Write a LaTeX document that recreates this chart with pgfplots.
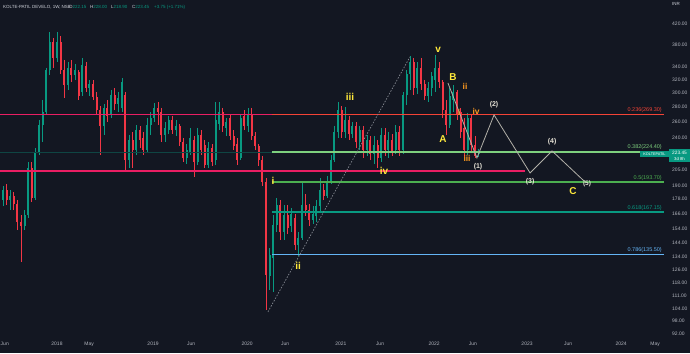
\documentclass[border=0pt]{standalone}
\usepackage{pgfplots}
\pgfplotsset{compat=1.18}
\usepackage{pgfplotstable}
\usepackage{fontspec}
\setmainfont{Liberation Sans}
\definecolor{bg}{HTML}{131722}
\definecolor{up}{HTML}{089981}
\definecolor{dn}{HTML}{F23645}
\definecolor{lbl}{HTML}{B2B5BE}
\definecolor{hd}{HTML}{D1D4DC}
\definecolor{pinkl}{HTML}{E91E63}
\definecolor{fibr}{HTML}{F44336}
\definecolor{fibg1}{HTML}{7ED07E}
\definecolor{fibg2}{HTML}{4CAF50}
\definecolor{fibt}{HTML}{089981}
\definecolor{fibb}{HTML}{64B5F6}
\definecolor{wy}{HTML}{FFE93B}
\definecolor{wo}{HTML}{FF9A1F}
\definecolor{zz}{HTML}{B2B0A8}
\definecolor{wl}{HTML}{E6E2D6}

\pgfplotstableread{
w o h l c
-30 177.1 189.7 172.0 186.0
-28 186.0 191.6 172.8 177.1
-26 177.1 186.0 168.6 180.6
-24 180.6 184.2 168.6 173.7
-22 173.7 177.1 152.9 159.0
-20 159.0 164.6 130.7 156.0
-18 156.0 168.6 152.9 164.6
-16 164.6 213.4 162.2 207.2
-14 207.2 213.4 175.4 178.9
-12 178.9 228.6 177.1 224.1
-10 224.1 262.3 220.9 255.9
-8 255.9 289.3 235.4 272.8
-6 272.8 338.5 268.8 335.1
-4 335.1 403.8 327.0 384.5
-2 384.5 392.2 338.5 355.5
0 355.5 403.8 348.6 384.5
2 384.5 396.0 328.6 335.1
4 335.1 352.0 292.2 311.4
6 311.4 348.6 303.8 338.5
8 338.5 352.0 316.0 327.0
10 327.0 345.2 319.1 335.1
12 331.9 335.1 289.3 295.0
14 300.9 355.5 295.0 343.5
16 341.8 348.6 300.9 306.8
18 306.8 319.1 295.0 312.9
20 312.9 319.1 289.3 293.6
22 293.6 300.9 270.1 275.4
24 275.4 280.9 220.9 254.7
26 254.7 283.7 243.6 278.2
28 278.2 289.3 259.7 267.5
30 270.1 303.8 264.9 296.5
32 296.5 306.8 275.4 283.7
34 283.7 300.9 272.8 292.2
36 278.2 322.2 272.8 316.0
38 296.5 300.9 205.2 215.5
40 215.5 243.6 207.2 237.7
42 237.7 247.3 207.2 226.3
44 226.3 255.9 220.9 249.7
46 249.7 254.7 228.6 237.7
48 240.1 247.3 220.9 226.3
50 226.3 264.9 224.1 255.9
52 255.9 272.8 243.6 264.9
54 264.9 285.1 259.7 278.2
56 278.2 286.5 255.9 272.8
58 272.8 278.2 235.4 243.6
60 243.6 259.7 235.4 252.2
62 249.7 267.5 244.8 262.3
64 262.3 267.5 244.8 249.7
66 249.7 262.3 242.4 254.7
68 254.7 257.2 230.8 235.4
70 235.4 240.1 213.4 217.6
72 217.6 233.1 211.3 226.3
74 224.1 252.2 220.9 240.1
76 237.7 242.4 198.3 213.4
78 213.4 252.2 210.3 243.6
80 243.6 249.7 220.9 226.3
82 232.0 237.7 207.2 210.3
84 210.3 235.4 207.2 228.6
86 228.6 233.1 209.3 213.4
88 215.5 286.5 210.3 262.3
90 257.2 286.5 249.7 272.8
92 272.8 278.2 247.3 254.7
94 252.2 264.9 242.4 259.7
96 264.9 270.1 237.7 242.4
98 242.4 249.7 226.3 230.8
100 233.1 240.1 210.3 215.5
102 217.6 270.1 215.5 264.9
104 267.5 275.4 249.7 254.7
106 254.7 278.2 247.3 270.1
108 270.1 278.2 237.7 242.4
110 242.4 247.3 226.3 230.8
112 230.8 233.1 209.3 215.5
114 215.5 219.8 189.7 193.5
116 193.5 197.3 103.3 122.6
118 122.0 140.0 113.9 135.3
120 133.3 164.6 112.8 156.7
122 156.7 178.9 151.4 172.8
124 172.8 177.1 145.6 151.4
126 151.4 172.8 145.6 164.6
128 164.6 172.8 149.9 154.4
130 156.0 170.3 151.4 165.4
132 162.2 165.4 138.6 142.1
134 142.1 151.4 134.6 146.9
136 146.9 193.5 145.6 172.8
138 172.8 182.4 163.8 168.6
140 168.6 173.7 156.0 160.6
142 160.6 172.0 157.5 165.4
144 163.8 177.1 159.0 172.0
146 172.0 197.3 167.0 186.0
148 186.0 191.6 177.1 180.6
150 180.6 199.3 178.9 193.5
152 193.5 220.9 191.6 215.5
154 215.5 254.7 213.4 247.3
156 247.3 286.5 240.1 275.4
158 275.4 280.9 240.1 247.3
160 247.3 279.5 240.1 262.3
162 262.3 267.5 237.7 244.8
164 244.8 259.7 240.1 254.7
166 254.7 259.7 228.6 235.4
168 235.4 254.7 226.3 249.7
170 249.7 254.7 217.6 226.3
172 226.3 243.6 219.8 237.7
174 237.7 242.4 215.5 221.9
176 221.9 242.4 211.3 232.0
178 232.0 237.7 207.2 217.6
180 217.6 252.2 213.4 243.6
182 243.6 252.2 219.8 226.3
184 226.3 247.3 217.6 237.7
186 237.7 244.8 219.8 224.1
188 226.3 255.9 221.9 247.3
190 247.3 254.7 219.8 226.3
192 226.3 300.9 221.9 296.5
194 296.5 335.1 282.3 328.6
196 328.6 359.0 303.8 348.6
198 348.6 355.5 296.5 306.8
200 306.8 348.6 297.9 338.5
202 338.5 355.5 303.8 312.9
204 312.9 319.1 289.3 295.0
206 295.0 316.0 286.5 306.8
208 306.8 331.9 295.0 325.4
210 319.1 360.8 300.9 338.5
212 338.5 348.6 306.8 316.0
214 316.0 319.1 264.9 275.4
216 275.4 289.3 243.6 255.9
218 255.9 306.8 252.2 295.0
220 289.3 311.4 272.8 300.9
222 300.9 303.8 262.3 268.8
224 272.8 278.2 240.1 247.3
226 252.2 264.9 218.7 226.3
228 226.3 271.4 220.9 264.9
230 264.9 268.8 224.1 232.0
232 232.0 242.4 217.6 219.7
234 222.15 228.00 218.90 223.45
}\candles

\begin{document}
\begin{tikzpicture}[x=1bp,y=1bp]
\fill[bg] (0,0) rectangle (690,353);
\useasboundingbox (0,0) rectangle (690,353);
\begin{axis}[
  at={(0bp,13bp)}, anchor=south west,
  scale only axis, width=664bp, height=340bp,
  ymode=log, xmin=-31.64, xmax=336.94, ymin=89.2, ymax=472.4,
  axis line style={draw=none}, major tick length=0pt, minor tick num=0,
  yticklabel pos=right,
  ytick={420,380,340,320,300,280,260,240,205,190,178,166,154,144,134,126,118,111,104,98,92},
  yticklabels={420.00,380.00,340.00,320.00,300.00,280.00,260.00,240.00,205.00,190.00,178.00,166.00,154.00,144.00,134.00,126.00,118.00,111.00,104.00,98.00,92.00},
  xtick={-29.0,0,17.8,53.3,74.4,105.5,126.6,157.6,179.3,209.3,230.9,260.9,283.7,313.1,332.0},
  xticklabels={Jun,2018,May,2019,Jun,2020,Jun,2021,Jun,2022,Jun,2023,Jun,2024,May},
  yticklabel style={anchor=west, inner sep=0pt, xshift=8bp, font=\fontsize{5}{6}\selectfont, text=lbl},
  xticklabel style={anchor=center, inner sep=0pt, yshift=-4bp, font=\fontsize{5}{6}\selectfont, text=lbl},
  unbounded coords=discard,
  clip=true,
]
% wicks
\addplot[draw=none, mark=none, forget plot, error bars/.cd, y dir=minus, y explicit, error mark=none, error bar style={line width=0.6bp, color=up}]
  table[x=w, y expr={\thisrow{c}>=\thisrow{o} ? \thisrow{h} : nan}, y error minus expr={\thisrow{h}-\thisrow{l}}] {\candles};
\addplot[draw=none, mark=none, forget plot, error bars/.cd, y dir=minus, y explicit, error mark=none, error bar style={line width=0.6bp, color=dn}]
  table[x=w, y expr={\thisrow{c}<\thisrow{o} ? \thisrow{h} : nan}, y error minus expr={\thisrow{h}-\thisrow{l}}] {\candles};
% bodies
\addplot[draw=none, mark=none, forget plot, error bars/.cd, y dir=minus, y explicit, error mark=none, error bar style={line width=2.0bp, color=up}]
  table[x=w, y expr={\thisrow{c}>=\thisrow{o} ? \thisrow{c} : nan}, y error minus expr={\thisrow{c}-\thisrow{o}}] {\candles};
\addplot[draw=none, mark=none, forget plot, error bars/.cd, y dir=minus, y explicit, error mark=none, error bar style={line width=2.0bp, color=dn}]
  table[x=w, y expr={\thisrow{c}<\thisrow{o} ? \thisrow{o} : nan}, y error minus expr={\thisrow{o}-\thisrow{c}}] {\candles};

% horizontal levels
\addplot[color=pinkl, line width=1.6bp] coordinates {(-31.64,269.3) (119.3,269.3)};
\addplot[color=pinkl, line width=1.6bp] coordinates {(-31.64,204.2) (259.8,204.2)};
\addplot[color=up!35!bg, line width=1bp] coordinates {(-31.64,223.8) (119.3,223.8)};
\addplot[color=fibr, line width=1.7bp] coordinates {(119.3,269.3) (336.94,269.3)};
\addplot[color=fibg1, line width=1.5bp] coordinates {(119.3,224.4) (336.94,224.4)};
\addplot[color=fibg2, line width=1.5bp] coordinates {(119.3,193.7) (336.94,193.7)};
\addplot[color=fibt, line width=1.5bp] coordinates {(119.3,167.15) (336.94,167.15)};
\addplot[color=fibb, line width=1.5bp] coordinates {(119.3,135.5) (336.94,135.5)};

% trend and projection
\addplot[color=lbl!70!bg, line width=0.7bp, dash pattern=on 1.5bp off 1.5bp] coordinates {(117.1,102.4) (195.9,357.3)};
\addplot[color=zz, line width=0.8bp] coordinates {(217.0,314.5) (233.1,217.8) (242.6,268.9) (262.6,202.3) (274.8,225.4) (292.5,194.6)};

% fib labels
\begin{scope}[every node/.style={anchor=south east, inner sep=0pt, yshift=1.5bp, font=\fontsize{5.5}{6}\selectfont}]
\node[text=fibr] at (axis cs:335.8,269.3) {0.236(269.30)};
\node[text=fibg1] at (axis cs:335.8,224.4) {0.382(224.40)};
\node[text=fibg2] at (axis cs:335.8,193.7) {0.5(193.70)};
\node[text=fibt] at (axis cs:335.8,167.15) {0.618(167.15)};
\node[text=fibb] at (axis cs:335.8,135.5) {0.786(135.50)};
\end{scope}

% wave labels
\begin{scope}[every node/.style={inner sep=0pt, text=wy, font=\fontsize{10}{10}\selectfont\bfseries}]
\node at (axis cs:119.9,194.5) {i};
\node at (axis cs:133.8,128.2) {ii};
\node at (axis cs:162.6,293.6) {iii};
\node at (axis cs:181.5,204.2) {iv};
\node at (axis cs:211.5,369.7) {v};
\node at (axis cs:214.3,239.0) {A};
\node at (axis cs:219.8,323.8) {B};
\node at (axis cs:286.4,185.1) {C};
\end{scope}
\begin{scope}[every node/.style={inner sep=0pt, text=wo, font=\fontsize{8.5}{9}\selectfont\bfseries}]
\node at (axis cs:223.2,272.8) {i};
\node at (axis cs:226.5,309.8) {ii};
\node at (axis cs:227.6,217.6) {iii};
\node at (axis cs:232.6,274.1) {iv};
\end{scope}
\begin{scope}[every node/.style={inner sep=0pt, text=wl, font=\fontsize{7}{8}\selectfont\bfseries}]
\node at (axis cs:233.7,208.2) {(1)};
\node at (axis cs:242.6,282.3) {(2)};
\node at (axis cs:262.6,193.5) {(3)};
\node at (axis cs:274.8,235.4) {(4)};
\node[font=\fontsize{6.5}{7}\selectfont\bfseries] at (axis cs:294.2,191.6) {(5)};
\end{scope}
\end{axis}

% header
\begin{scope}[every node/.style={anchor=west, inner sep=0pt, font=\fontsize{4.5}{5}\selectfont}]
\node[text=hd] at (3,346) {KOLTE-PATIL DEVELO, 1W, NSE};
\node at (69,346) {\textcolor{hd}{O}\textcolor{up}{222.15}};
\node at (90,346) {\textcolor{hd}{H}\textcolor{up}{228.00}};
\node at (111,346) {\textcolor{hd}{L}\textcolor{up}{218.90}};
\node at (132,346) {\textcolor{hd}{C}\textcolor{up}{223.45}};
\node[text=up] at (154,346) {+3.75 (+1.71\%)};
\node[text=hd] at (672,349) {INR};
\end{scope}
% price tag
\fill[up] (640,196) rectangle (669,202);
\node[anchor=center, inner sep=0pt, text=white, font=\fontsize{3.8}{4}\selectfont] at (654.5,199) {KOLTEPATIL};
\fill[up] (669,191) rectangle (690,204);
\node[anchor=center, inner sep=0pt, text=white, font=\fontsize{4.8}{5}\selectfont] at (679.5,200.5) {223.45};
\node[anchor=center, inner sep=0pt, text=white, font=\fontsize{4.3}{5}\selectfont] at (679.5,194.5) {3d 8h};
\end{tikzpicture}
\end{document}
